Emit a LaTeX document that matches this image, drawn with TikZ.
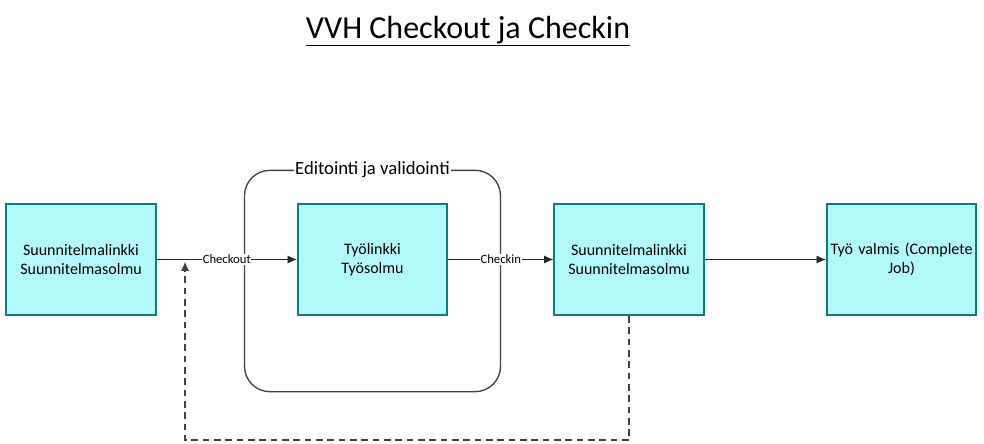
\documentclass[tikz,border=0pt]{standalone}
\usepackage{fontspec}
\setmainfont{Carlito}
\usepackage{tikz}
\usetikzlibrary{shapes,arrows.meta,positioning,calc}
\definecolor{boxfill}{HTML}{B3F8FA}
\definecolor{boxline}{HTML}{0E7C7B}
\definecolor{frameline}{HTML}{404040}

\begin{document}
\begin{tikzpicture}[x=0.75pt, y=-0.75pt,
    vaihe/.style={rectangle, draw=boxline, line width=1.5pt, fill=boxfill, minimum width=112pt, minimum height=83pt, align=center, font=\fontsize{12}{14.5}\selectfont, inner xsep=0pt, text width=110pt},
    nuoli/.style={-{Latex[length=7pt,width=6pt]}, line width=0.7pt, draw=black!85},
    siirto/.style={fill=white, inner sep=0.5pt, font=\fontsize{9.5}{11}\selectfont}
]
\useasboundingbox (0,0) rectangle (984,443);

\node (otsikko) at (468,31) {\fontsize{24}{28}\selectfont\underline{VVH Checkout ja Checkin}};

\node[rectangle, draw=frameline, line width=1pt, rounded corners=19pt, minimum width=192pt, minimum height=166pt] (kehys) at (372.5,281) {};
\node[fill=white, inner sep=1pt, font=\fontsize{14}{16}\selectfont] (kehysnimi) at (kehys.north) {Editointi ja validointi};

\node[vaihe] (suun1) at (81,259.5) {Suunnitelmalinkki\\Suunnitelmasolmu};
\node[vaihe] (tyo) at (372.5,259.5) {Työlinkki\\Työsolmu};
\node[vaihe] (suun2) at (629,259.5) {Suunnitelmalinkki\\Suunnitelmasolmu};
\node[vaihe] (valmis) at (901.5,259.5) {Työ valmis (Complete\\Job)};

\draw[nuoli] (suun1) -- node[siirto] {Checkout} (tyo);
\draw[nuoli] (tyo) -- node[siirto] {Checkin} (suun2);
\draw[nuoli] (suun2) -- (valmis);

% paluu takaisin checkoutiin
\coordinate (alakulma) at (185,440);
\coordinate (paluu) at (185,261.5);
\draw[-{Latex[length=7pt,width=6pt]}, line width=0.9pt, draw=frameline, dash pattern=on 5pt off 3.5pt] (suun2.south) |- (alakulma) -- (paluu);

\end{tikzpicture}
\end{document}
